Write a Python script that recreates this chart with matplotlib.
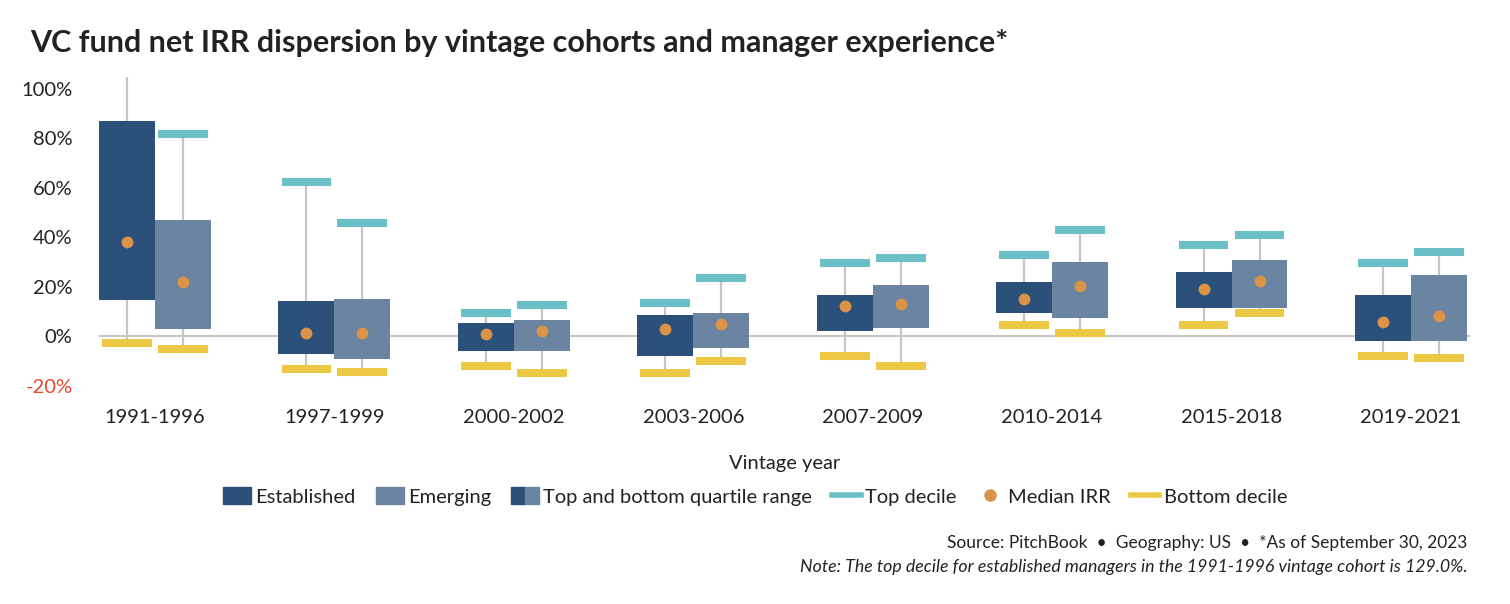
import matplotlib.pyplot as plt
import numpy as np
from matplotlib.patches import Patch
from matplotlib.lines import Line2D
from matplotlib.legend_handler import HandlerTuple

plt.rcParams['font.family'] = ['Lato', 'DejaVu Sans']

cohorts = ['1991-1996', '1997-1999', '2000-2002', '2003-2006',
           '2007-2009', '2010-2014', '2015-2018', '2019-2021']

# established managers (values in %)
est_top_dec = [129.0, 62.2, 9.4, 13.5, 29.6, 32.8, 36.8, 29.6]
est_q3 = [87.0, 14.2, 5.3, 8.5, 16.6, 21.9, 25.9, 16.6]
est_median = [38.3, 1.4, 0.8, 2.8, 12.0, 15.0, 19.1, 5.9]
est_q1 = [14.7, -7.3, -5.9, -8.0, 2.1, 9.4, 11.5, -1.9]
est_bot_dec = [-2.9, -13.3, -12.0, -14.8, -8.0, 4.6, 4.6, -8.1]

# emerging managers
emg_top_dec = [81.8, 45.9, 12.7, 23.6, 31.6, 42.9, 40.9, 34.0]
emg_q3 = [47.2, 15.0, 6.5, 9.3, 20.6, 30.0, 30.8, 24.7]
emg_median = [22.0, 1.4, 1.9, 4.9, 13.1, 20.1, 22.3, 8.0]
emg_q1 = [3.0, -9.2, -5.9, -4.7, 3.4, 7.4, 11.5, -1.9]
emg_bot_dec = [-5.1, -14.6, -14.8, -10.0, -12.0, 1.3, 9.3, -8.9]

c_est = '#2b5079'
c_emg = '#6a84a2'
c_top = '#6bbfc6'
c_bot = '#ecc844'
c_med = '#db9447'
c_grey = '#c9c5bf'
c_text = '#222222'

fig = plt.figure(figsize=(15.1, 6.04), dpi=100)
ax = fig.add_axes([0.0656, 0.3576, 0.908, 0.5154])

x = np.arange(len(cohorts))
w = 0.312
dw = 0.139

ax.axhline(0, color=c_grey, lw=1.5, zorder=1)

for xs, top, q3, med, q1, bot, col in [
        (x - w / 2, est_top_dec, est_q3, est_median, est_q1, est_bot_dec, c_est),
        (x + w / 2, emg_top_dec, emg_q3, emg_median, emg_q1, emg_bot_dec, c_emg)]:
    ax.vlines(xs, bot, top, color=c_grey, lw=1.6, zorder=1)
    ax.bar(xs, np.array(q3) - np.array(q1), bottom=q1, width=w, color=col, zorder=2)
    ax.hlines(top, xs - dw, xs + dw, color=c_top, lw=5.8, zorder=3)
    ax.hlines(bot, xs - dw, xs + dw, color=c_bot, lw=5.8, zorder=3)
    ax.plot(xs, med, 'o', color=c_med, ms=8.5, mec='none', zorder=4)

ax.set_xlim(-0.312, len(cohorts) - 1 + 0.33)
ax.set_ylim(-21, 105)
ax.set_yticks([-20, 0, 20, 40, 60, 80, 100])
ax.set_yticklabels(['-20%', '0%', '20%', '40%', '60%', '80%', '100%'])
ax.set_xticks(x)
ax.set_xticklabels(cohorts)
ax.tick_params(axis='both', length=0, labelsize=14.5, colors=c_text)
ax.tick_params(axis='x', pad=15)
ax.tick_params(axis='y', pad=19)
ax.get_yticklabels()[0].set_color('#e8472a')
for s in ax.spines.values():
    s.set_visible(False)

ax.set_xlabel('Vintage year', fontsize=14.5, color=c_text, labelpad=21)

fig.text(0.02, 0.914, 'VC fund net IRR dispersion by vintage cohorts and manager experience*',
         fontsize=22, fontweight='bold', color=c_text)

handles = [Patch(color=c_est), Patch(color=c_emg),
           (Patch(color=c_est), Patch(color=c_emg)),
           Line2D([], [], color=c_top, lw=4),
           Line2D([], [], marker='o', color=c_med, ls='none', ms=8),
           Line2D([], [], color=c_bot, lw=4)]
labels = ['Established', 'Emerging', 'Top and bottom quartile range',
          'Top decile', 'Median IRR', 'Bottom decile']
fig.legend(handles, labels, loc='center', bbox_to_anchor=(0.5, 0.178), ncol=6,
           frameon=False, fontsize=14.5, handlelength=1.4, handleheight=0.9,
           handletextpad=0.2, columnspacing=1.0, labelcolor=c_text,
           handler_map={tuple: HandlerTuple(ndivide=None, pad=0)})

fig.text(0.972, 0.093, 'Source: PitchBook  \u2022  Geography: US  \u2022  *As of September 30, 2023',
         ha='right', fontsize=12.5, color=c_text)
fig.text(0.972, 0.053, 'Note: The top decile for established managers in the 1991-1996 vintage cohort is 129.0%.',
         ha='right', fontsize=12.8, style='italic', color=c_text)

fig.savefig('out.png', dpi=100)
